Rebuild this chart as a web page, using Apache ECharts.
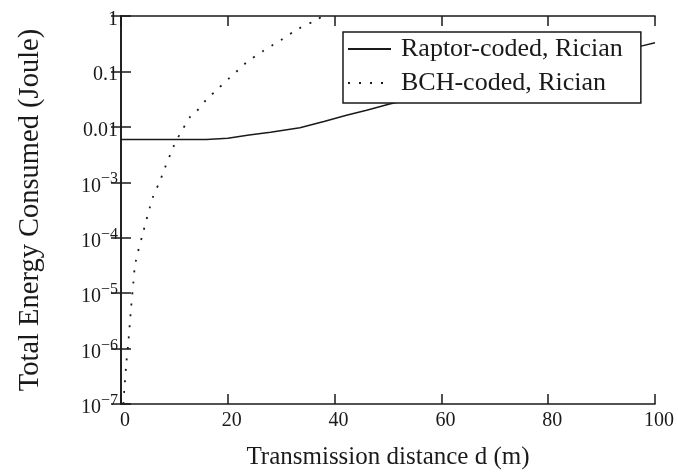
<!DOCTYPE html>
<html>
<head>
<meta charset="utf-8">
<script src="https://cdn.jsdelivr.net/npm/echarts@6/dist/echarts.min.js"></script>
<style>
  html, body { margin: 0; padding: 0; background: #fff; }
  #container { width: 678px; height: 475px; }
</style>
</head>
<body>
<div id="container"></div>
<script>
    // distances (m) and energy (Joule)
    var raptorD = [0, 5, 10, 16, 20, 24, 28, 33.5, 38, 42.4, 46, 50.3, 60, 70, 80, 90, 97, 100];
    var raptorE = [0.0059, 0.0059, 0.0059, 0.0059, 0.0062, 0.0071, 0.008, 0.0096, 0.0125, 0.0163, 0.02, 0.0258, 0.042, 0.07, 0.116, 0.195, 0.28, 0.33];

    var bchD = [0.45, 0.6, 1, 1.4, 1.9, 2.3, 2.7, 4.1, 6, 7.2, 8.2, 9.7, 10.4, 11.3, 12.9, 13.8, 16.1, 17.8, 20.4, 21.9, 23.5, 26.5, 28.2, 30, 33.1, 36.6, 38];
    var bchE = [1.0e-7, 1.7e-7, 5.5e-7, 1.4e-6, 5.6e-6, 1.5e-5, 3.5e-5, 1.2e-4, 5.5e-4, 1.0e-3, 1.8e-3, 4.1e-3, 5.8e-3, 8.1e-3, 0.015, 0.0174, 0.032, 0.045, 0.078, 0.105, 0.145, 0.23, 0.29, 0.37, 0.58, 0.85, 1.05];

    var seriesNames = ['Raptor-coded, Rician', 'BCH-coded, Rician'];
    var xTicks = [0, 20, 40, 60, 80, 100];
    var yPlainLabels = { '0': '1', '-1': '0.1', '-2': '0.01' };

    function zip(xs, ys) {
        var out = [];
        for (var i = 0; i < xs.length; i++) {
            out.push([xs[i], ys[i]]);
        }
        return out;
    }

    var font = '"Liberation Serif", "Times New Roman", serif';
    var ink = '#1a1a1a';

    var dom = document.getElementById('container');
    var myChart = echarts.init(dom, null, { renderer: 'canvas' });

    var frameLine = { show: true, lineStyle: { color: ink, width: 1.6 } };
    var innerTick = { show: true, inside: true, length: 10, lineStyle: { color: ink, width: 1.5 } };

    var option = {
        animation: false,
        backgroundColor: '#fff',
        grid: { left: 121, right: 23, top: 16, bottom: 71, containLabel: false, outerBoundsMode: 'none' },
        legend: {
            orient: 'vertical',
            left: 343,
            top: 32,
            padding: [4, 18, 7, 4],
            itemGap: 8,
            itemWidth: 43,
            itemHeight: 14,
            borderColor: ink,
            borderWidth: 1.5,
            backgroundColor: '#fff',
            itemStyle: { opacity: 0 },
            textStyle: { fontFamily: font, fontSize: 26, lineHeight: 26, color: ink, padding: [0, 0, 0, 5] },
            data: seriesNames
        },
        xAxis: [
            {
                type: 'value', position: 'bottom', min: xTicks[0], max: xTicks[xTicks.length - 1], interval: 20,
                name: 'Transmission distance d (m)', nameLocation: 'middle', nameGap: 41,
                nameTextStyle: { fontFamily: font, fontSize: 25, color: ink },
                axisLine: frameLine, axisTick: innerTick, splitLine: { show: false },
                axisLabel: { fontFamily: font, fontSize: 20, color: ink, margin: 7, padding: [0, 0, 0, 8] }
            },
            {
                type: 'value', position: 'top', min: xTicks[0], max: xTicks[xTicks.length - 1], interval: 20,
                axisLine: frameLine, axisTick: innerTick, splitLine: { show: false },
                axisLabel: { show: false }
            }
        ],
        yAxis: [
            {
                type: 'log', logBase: 10, min: 1e-7, max: 1, splitNumber: 7, position: 'left',
                name: 'Total Energy Consumed (Joule)', nameLocation: 'middle', nameGap: 76,
                nameTextStyle: { fontFamily: font, fontSize: 28.5, color: ink },
                axisLine: frameLine, axisTick: innerTick, splitLine: { show: false },
                axisLabel: {
                    margin: 3,
                    color: ink,
                    formatter: function (v) {
                        var e = Math.round(Math.log(v) / Math.LN10);
                        if (yPlainLabels[String(e)] !== undefined) {
                            return '{n|' + yPlainLabels[String(e)] + '}';
                        }
                        return '{b|10}{s|\u2212' + (-e) + '}';
                    },
                    rich: {
                        n: { fontFamily: font, fontSize: 20, color: ink, padding: [7, 0, 0, 0] },
                        b: { fontFamily: font, fontSize: 20, color: ink, padding: [8, 0, 0, 0] },
                        s: { fontFamily: font, fontSize: 16, color: ink, padding: [0, 0, 6, 0] }
                    }
                }
            },
            {
                type: 'log', logBase: 10, min: 1e-7, max: 1, splitNumber: 7, position: 'right',
                axisLine: frameLine, axisTick: innerTick, splitLine: { show: false },
                axisLabel: { show: false }
            }
        ],
        series: [
            {
                name: seriesNames[0],
                type: 'line',
                xAxisIndex: 0, yAxisIndex: 0,
                symbol: 'none',
                lineStyle: { color: ink, width: 1.5, type: 'solid' },
                itemStyle: { color: ink },
                data: zip(raptorD, raptorE)
            },
            {
                name: seriesNames[1],
                type: 'line',
                xAxisIndex: 0, yAxisIndex: 0,
                symbol: 'none',
                smooth: 0.3,
                lineStyle: { color: ink, width: 1.8, type: [2, 9], cap: 'butt' },
                itemStyle: { color: ink },
                data: zip(bchD, bchE)
            }
        ]
    };

    if (option && typeof option === 'object') {
        myChart.setOption(option, true);
    }
</script>
</body>
</html>
